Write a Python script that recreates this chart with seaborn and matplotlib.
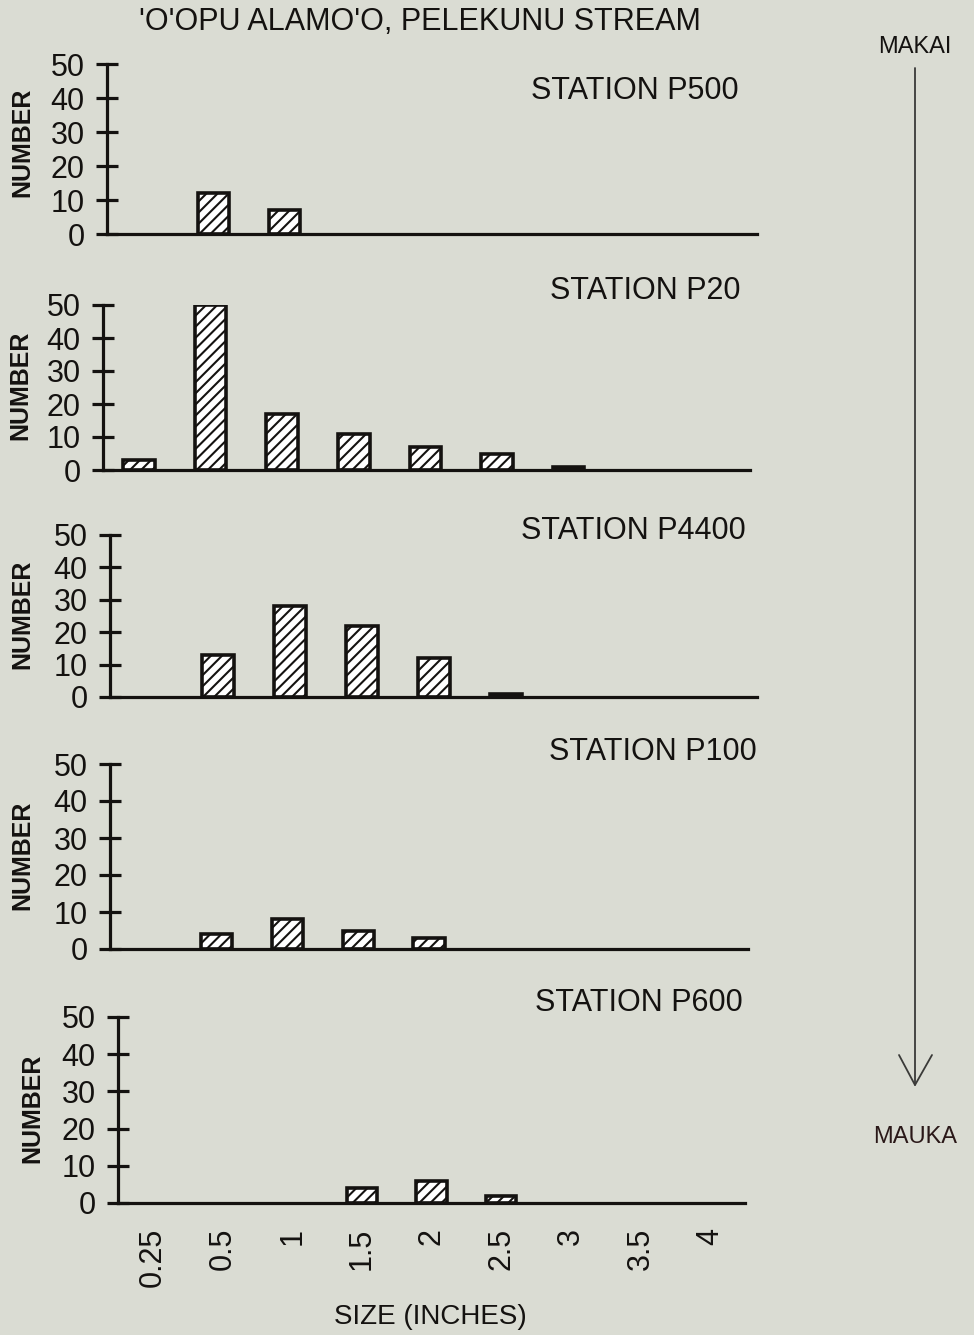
import matplotlib
matplotlib.use("Agg")
import matplotlib.pyplot as plt
import seaborn as sns
import pandas as pd

# ---- data ----
sizes = ["0.25", "0.5", "1", "1.5", "2", "2.5", "3", "3.5", "4"]
stations = ["STATION P500", "STATION P20", "STATION P4400", "STATION P100", "STATION P600"]
p500 = [0, 12, 7, 0, 0, 0, 0, 0, 0]
p20 = [3, 50, 17, 11, 7, 5, 1, 0, 0]
p4400 = [0, 13, 28, 22, 12, 1, 0, 0, 0]
p100 = [0, 4, 8, 5, 3, 0, 0, 0, 0]
p600 = [0, 0, 0, 4, 6, 2, 0, 0, 0]
series = [p500, p20, p4400, p100, p600]
yticks = [0, 10, 20, 30, 40, 50]

title = "'O'OPU ALAMO'O, PELEKUNU STREAM"
xlabel = "SIZE (INCHES)"
ylabel = "NUMBER"

sns.set_theme(style="white")
plt.rcParams['font.family'] = ['Liberation Sans', 'DejaVu Sans']
plt.rcParams['hatch.linewidth'] = 1.5

BG = "#dadcd3"
INK = "#141210"

W, H = 974, 1335
fig = plt.figure(figsize=(W / 100, H / 100), dpi=100, facecolor=BG)

# panel boxes in pixels: left, right, top(50), bottom(0), xlim right
boxes = [
    (107, 757, 64, 234, 8.65),
    (103, 750, 305, 470, 8.53),
    (110, 757, 535, 697, 8.49),
    (110, 748, 764, 949, 8.5),
    (118, 745, 1017, 1203, 8.5),
]
label_pos = [(739, 91), (741, 291), (746, 531), (757, 752), (743, 1003)]
ylab_pos = [(22, 142), (20, 385), (22, 614), (22, 855), (32, 1108)]

for i, (vals, box) in enumerate(zip(series, boxes)):
    l, r, t, b, xr = box
    ax = fig.add_axes([l / W, 1 - b / H, (r - l) / W, (b - t) / H])
    ax.set_facecolor("none")
    df = pd.DataFrame({"size": sizes, "n": vals})
    sns.barplot(data=df, x="size", y="n", order=sizes, ax=ax, color="white",
                edgecolor=INK, linewidth=2.6, hatch="///", width=0.44,
                saturation=1)
    for p in ax.patches:
        if p.get_height() == 0:
            p.set_visible(False)
    ax.set_xlim(-0.5, xr)
    ax.set_ylim(0, 50)
    ax.set_yticks(yticks)
    ax.set_xlabel("")
    ax.set_ylabel("")
    for s in ["top", "right"]:
        ax.spines[s].set_visible(False)
    for s in ["left", "bottom"]:
        ax.spines[s].set_linewidth(2.3)
        ax.spines[s].set_color(INK)
    ax.tick_params(axis="y", direction="inout", length=16, width=2.3,
                   color=INK, labelsize=22, labelcolor=INK, pad=8, left=True)
    if i < 4:
        ax.tick_params(axis="x", length=0, labelbottom=False)
    else:
        ax.tick_params(axis="x", length=0, pad=18, labelsize=22,
                       labelcolor=INK, labelrotation=90)
    lx, ly = label_pos[i]
    fig.text(lx / W, 1 - ly / H, stations[i], ha="right", va="center",
             fontsize=22, color=INK)
    yx, yy = ylab_pos[i]
    fig.text(yx / W, 1 - yy / H, ylabel, rotation=90, ha="center",
             va="center", fontsize=18, fontweight="bold", color=INK)

fig.text(420 / W, 1 - 22 / H, title, ha="center", va="center",
         fontsize=22, color=INK)
fig.text(430 / W, 1 - 1317 / H, xlabel, ha="center", va="center",
         fontsize=20, color=INK)

# MAKAI -> MAUKA arrow
fig.text(915 / W, 1 - 47 / H, "MAKAI", ha="center", va="center",
         fontsize=17, color=INK)
fig.text(915 / W, 1 - 1137 / H, "MAUKA", ha="center", va="center",
         fontsize=17, color="#2a1818")
arrow_col = "#3a3a38"
fig.add_artist(plt.Line2D([915 / W, 915 / W], [1 - 68 / H, 1 - 1085 / H],
                          color=arrow_col, lw=1.3))
fig.add_artist(plt.Line2D([899 / W, 915 / W, 932 / W],
                          [1 - 1055 / H, 1 - 1085 / H, 1 - 1055 / H],
                          color=arrow_col, lw=1.3))

fig.savefig("out.png", dpi=100, facecolor=BG)
